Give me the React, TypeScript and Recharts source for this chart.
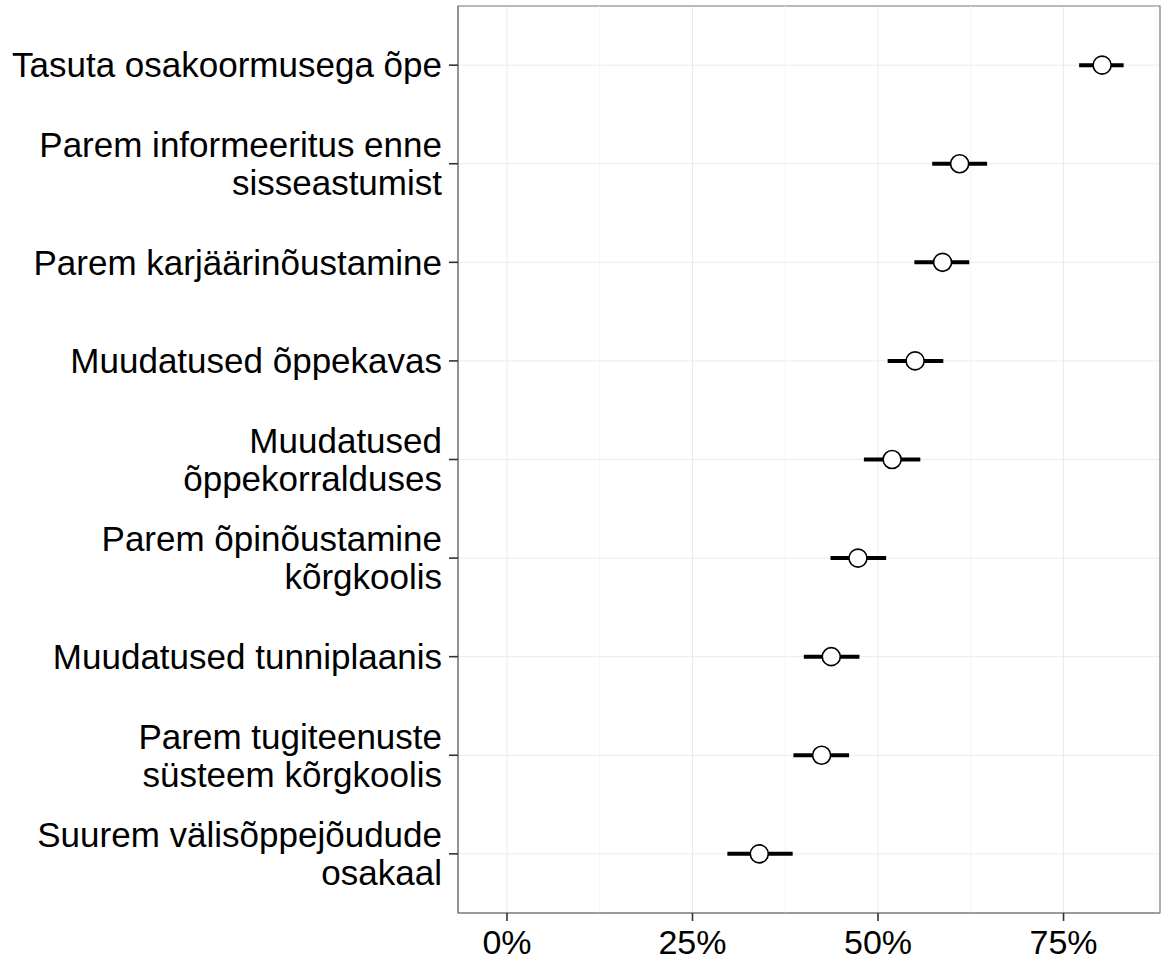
import React from 'react';
import {
  ScatterChart,
  Scatter,
  XAxis,
  YAxis,
  CartesianGrid,
  ErrorBar,
  ReferenceLine,
  ReferenceArea
} from 'recharts';

const categories = [
  'Tasuta osakoormusega õpe',
  'Parem informeeritus enne\nsisseastumist',
  'Parem karjäärinõustamine',
  'Muudatused õppekavas',
  'Muudatused\nõppekorralduses',
  'Parem õpinõustamine\nkõrgkoolis',
  'Muudatused tunniplaanis',
  'Parem tugiteenuste\nsüsteem kõrgkoolis',
  'Suurem välisõppejõudude\nosakaal'
];

const estimates = [80.2, 61.0, 58.7, 55.0, 51.9, 47.3, 43.7, 42.4, 34.0];
const lower = [77.1, 57.3, 54.9, 51.3, 48.1, 43.6, 40.0, 38.6, 29.7];
const upper = [83.1, 64.7, 62.3, 58.8, 55.7, 51.1, 47.5, 46.1, 38.5];

const majorTicks = [0, 25, 50, 75];
const minorTicks = [12.5, 37.5, 62.5, 87.5];

const X_DOMAIN: [number, number] = [-6.6, 88];
const Y_DOMAIN: [number, number] = [-0.6, 8.6];

const FONT = '"Liberation Sans", Arial, sans-serif';

const data = estimates.map((est, i) => ({
  x: est,
  y: i,
  err: [est - lower[i], upper[i] - est]
}));

const CategoryTick = (props: any) => {
  const { x, y, payload } = props;
  const lines = categories[payload.value].split('\n');
  const lh = 38;
  const offset = -((lines.length - 1) * lh) / 2;
  return (
    <text x={x} y={y} textAnchor="end" fontSize={35} fontFamily={FONT} fill="#000">
      {lines.map((line, i) => (
        <tspan key={i} x={x} y={y + offset + i * lh} dy="0.35em">
          {line}
        </tspan>
      ))}
    </text>
  );
};

const PointShape = (props: any) => (
  <circle cx={props.cx} cy={props.cy} r={9} fill="#fff" stroke="#000" strokeWidth={1.6} />
);

export default function App() {
  return (
    <div style={{ position: 'absolute', left: 0, top: 0, background: '#fff' }}>
      <ScatterChart width={1161} height={958} margin={{ top: 6, right: 1, bottom: 0, left: 0 }}>
        <CartesianGrid stroke="#ebebeb" strokeWidth={1} />
        {minorTicks.map((t) => (
          <ReferenceLine key={t} x={t} stroke="#f5f5f5" strokeWidth={1} ifOverflow="visible" />
        ))}
        <XAxis
          type="number"
          dataKey="x"
          domain={X_DOMAIN}
          allowDataOverflow
          ticks={majorTicks}
          interval={0}
          tickFormatter={(v) => `${v}%`}
          height={45}
          tickSize={8}
          tickMargin={9}
          axisLine={{ stroke: '#7f7f7f', strokeWidth: 1.2 }}
          tickLine={{ stroke: '#333', strokeWidth: 1.6 }}
          tick={{ fontSize: 34, fontFamily: FONT, fill: '#000' }}
        />
        <YAxis
          type="number"
          dataKey="y"
          domain={Y_DOMAIN}
          allowDataOverflow
          reversed
          ticks={categories.map((_, i) => i)}
          interval={0}
          width={458}
          tickSize={9}
          tickMargin={7}
          axisLine={{ stroke: '#7f7f7f', strokeWidth: 1.2 }}
          tickLine={{ stroke: '#333', strokeWidth: 1.6 }}
          tick={<CategoryTick />}
        />
        <ReferenceArea
          x1={X_DOMAIN[0]}
          x2={X_DOMAIN[1]}
          y1={Y_DOMAIN[0]}
          y2={Y_DOMAIN[1]}
          fill="none"
          fillOpacity={0}
          stroke="#7f7f7f"
          strokeWidth={1.2}
          ifOverflow="visible"
        />
        <Scatter data={data} shape={<PointShape />} isAnimationActive={false}>
          <ErrorBar dataKey="err" direction="x" width={0} stroke="#000" strokeWidth={4} />
        </Scatter>
      </ScatterChart>
    </div>
  );
}
